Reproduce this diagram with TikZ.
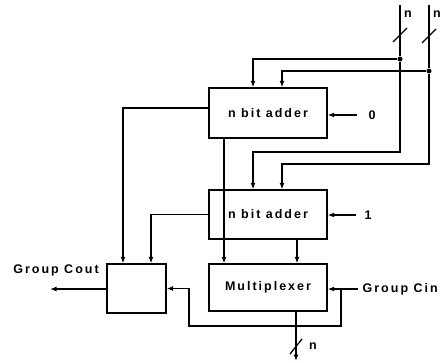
\documentclass[tikz,border=0pt]{standalone}
\usepackage{fontspec}
\newfontfamily\lblfont{Liberation Sans}[LetterSpace=16]
\usetikzlibrary{arrows.meta}
\begin{document}
\begin{tikzpicture}[x=1pt,y=-1pt,line width=1.3pt,
  >={Latex[length=6.5pt,width=5pt]},
  every node/.style={font=\lblfont\fontsize{12.5}{14}\selectfont\bfseries},
  blk/.style={draw,inner sep=0pt,minimum width=118pt},
  lbl/.style={inner sep=0pt},
  dot/.style={fill,circle,inner sep=0pt,minimum size=5pt}]
\useasboundingbox (0,0) rectangle (443,362);
% blocks
\node[blk,minimum height=50pt] (add1) at (268,113) {n bit adder};
\node[blk,minimum height=49pt] (add2) at (268,214.5) {n bit adder};
\node[blk,minimum height=47pt] (mux) at (268,287.5) {Multiplexer};
\node[blk,minimum width=59pt,minimum height=49pt] (cbox) at (136.5,288.5) {};
% labels
\node[lbl] (zero) at (372,115) {0};
\node[lbl] (one) at (368,215) {1};
\node[lbl,anchor=west] (cin) at (362,289) {Group Cin};
\node[lbl] (cout) at (56,270) {Group Cout};
\node[lbl] (n1) at (408,14) {n};
\node[lbl] (n2) at (437,14) {n};
\node[lbl] (n3) at (313,346) {n};
% bus coordinates
\coordinate (t1) at (400,5);
\coordinate (t2) at (429,5);
\node[dot] (d1) at (400,59) {};
\node[dot] (d2) at (429,71) {};
\coordinate (c1) at (400,152);
\coordinate (c2) at (429,164);
\coordinate (j) at (341,289);
\coordinate (c3) at (341,326);
\coordinate (c4) at (189,326);
\coordinate (oend) at (296,361);
\coordinate (cend) at (50,289);
% buses
\draw (t1) -- (d1);
\draw (t2) -- (d2);
\draw[->] (d1) -| ([xshift=-15pt]add1.north);
\draw[->] (d2) -| ([xshift=14pt]add1.north);
\draw[->] (d1) -- (c1) -| ([xshift=-15pt]add2.north);
\draw[->] (d2) -- (c2) -| ([xshift=14pt]add2.north);
% slashes
\draw (393,42) -- (407,28);
\draw (422,43) -- (436,29);
\draw (290,354) -- (302,339);
% constant inputs
\draw[->] ([xshift=-11pt]zero.west) -- (add1.east |- zero);
\draw[->] ([xshift=-8pt]one.west) -- (add2.east |- one);
% carries to carry box
\draw[->] ([yshift=5pt]add1.west) -| ([xshift=-13.5pt]cbox.north);
\draw[->] (add2.west) -| ([xshift=14.5pt]cbox.north);
% sums to mux
\draw[->] ([xshift=-44pt]add1.south) -- ([xshift=-44pt]mux.north);
\draw[->] ([xshift=29pt]add2.south) -- ([xshift=29pt]mux.north);
% mux output
\draw[->] ([xshift=28pt]mux.south) -- (oend);
% group carry in
\draw[->] ([xshift=-4pt]cin.west) -- (mux.east |- cin);
\draw[->] (j) -- (c3) -- (c4) |- (cbox.east);
% group carry out
\draw[->] (cbox.west |- cend) -- (cend);
\end{tikzpicture}
\end{document}
